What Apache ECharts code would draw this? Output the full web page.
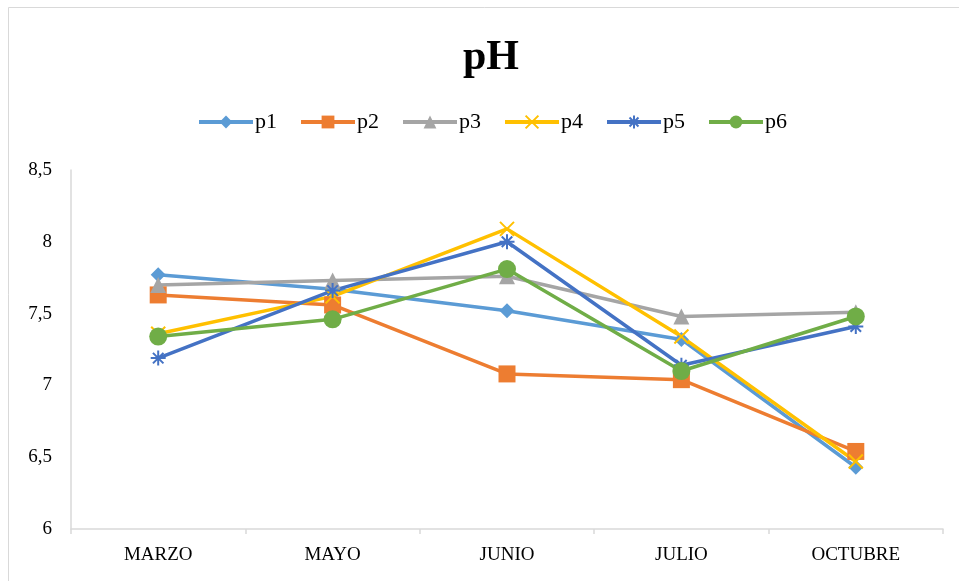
<!DOCTYPE html>
<html>
<head>
<meta charset="utf-8">
<title>pH</title>
<script src="https://cdn.jsdelivr.net/npm/echarts@6/dist/echarts.min.js"></script>
<style>
  html, body { margin: 0; padding: 0; background: #ffffff; }
  #chart { width: 959px; height: 581px; }
</style>
</head>
<body>
<div id="chart"></div>
<script>
// Sampling months
const months = ['MARZO', 'MAYO', 'JUNIO', 'JULIO', 'OCTUBRE'];

// pH readings per sampling point
const p1 = [7.77, 7.67, 7.52, 7.32, 6.43];
const p2 = [7.63, 7.56, 7.08, 7.04, 6.54];
const p3 = [7.70, 7.73, 7.76, 7.48, 7.51];
const p4 = [7.36, 7.62, 8.09, 7.34, 6.47];
const p5 = [7.19, 7.66, 8.00, 7.14, 7.41];
const p6 = [7.34, 7.46, 7.81, 7.10, 7.48];

// Value axis ticks
const yTicks = [6, 6.5, 7, 7.5, 8, 8.5];

const serif = '"Liberation Serif", "DejaVu Serif", serif';

const SYM_X = 'path://M0,0L10,10M10,0L0,10';
const SYM_STAR = 'path://M5,0L5,10M0,5L10,5M1.5,1.5L8.5,8.5M8.5,1.5L1.5,8.5';

function lineSeries(name, data, color, symbol, size, strokeOnly) {
  return {
    name: name,
    type: 'line',
    data: data,
    symbol: symbol,
    symbolSize: size,
    showAllSymbol: true,
    lineStyle: { color: color, width: 3.5 },
    itemStyle: strokeOnly
      ? { color: color, borderColor: color, borderWidth: 2 }
      : { color: color, borderWidth: 0 },
    emphasis: { disabled: true },
    animation: false
  };
}

const chart = echarts.init(document.getElementById('chart'), null, { renderer: 'canvas' });

chart.setOption({
  backgroundColor: '#ffffff',
  graphic: [{
    type: 'rect',
    shape: { x: 8.5, y: 7.5, width: 1000, height: 1000 },
    style: { fill: 'none', stroke: '#D9D9D9', lineWidth: 1 },
    silent: true,
    z: -10
  }],
  title: {
    text: 'pH',
    left: 486,
    textAlign: 'center',
    top: 32,
    textStyle: { fontFamily: serif, fontSize: 42, fontWeight: 'bold', color: '#000000' }
  },
  legend: {
    top: 106,
    left: 192,
    itemWidth: 54,
    itemHeight: 16,
    itemGap: 22,
    lineStyle: { width: 4 },
    textStyle: { fontFamily: serif, fontSize: 22, color: '#000000', padding: [0, 0, 0, -3] },
    data: ['p1', 'p2', 'p3', 'p4', 'p5', 'p6']
  },
  grid: { left: 71, right: 16, top: 170, bottom: 52, containLabel: false },
  xAxis: {
    type: 'category',
    data: months,
    boundaryGap: true,
    axisLine: { lineStyle: { color: '#D9D9D9', width: 1.5 } },
    axisTick: { show: true, alignWithLabel: false, length: 5, lineStyle: { color: '#D9D9D9', width: 1.5 } },
    axisLabel: { fontFamily: serif, fontSize: 19, color: '#000000', margin: 17 },
    splitLine: { show: false }
  },
  yAxis: {
    type: 'value',
    min: yTicks[0],
    max: yTicks[yTicks.length - 1],
    interval: 0.5,
    axisLine: { show: true, lineStyle: { color: '#D9D9D9', width: 1.5 } },
    axisTick: { show: false },
    splitLine: { show: false },
    axisLabel: {
      fontFamily: serif, fontSize: 19, color: '#000000', margin: 19,
      formatter: v => String(v).replace('.', ',')
    }
  },
  series: [
    lineSeries('p1', p1, '#5B9BD5', 'diamond', 15, false),
    lineSeries('p2', p2, '#ED7D31', 'rect', 17, false),
    lineSeries('p3', p3, '#A5A5A5', 'triangle', 16, false),
    lineSeries('p4', p4, '#FFC000', SYM_X, 14, true),
    lineSeries('p5', p5, '#4472C4', SYM_STAR, 15, true),
    lineSeries('p6', p6, '#70AD47', 'circle', 18, false)
  ]
});
</script>
</body>
</html>
